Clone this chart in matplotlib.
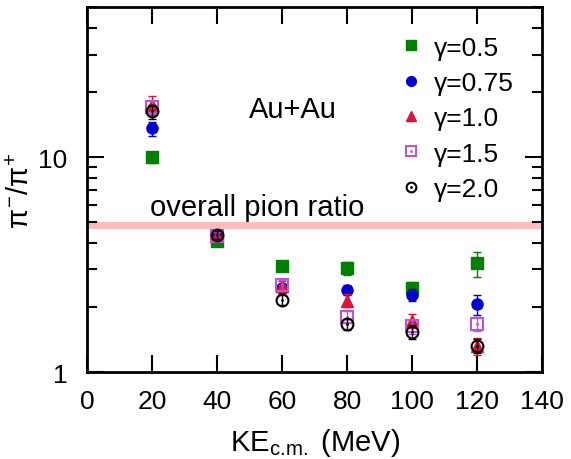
import numpy as np
import matplotlib
matplotlib.use("Agg")
import matplotlib.pyplot as plt
from matplotlib.lines import Line2D
from matplotlib.legend_handler import HandlerTuple

plt.rcParams['font.family'] = ['Liberation Sans', 'DejaVu Sans']
plt.rcParams['mathtext.fontset'] = 'custom'
plt.rcParams['mathtext.rm'] = 'Liberation Sans'
plt.rcParams['mathtext.it'] = 'Liberation Sans'

ke = [20, 40, 60, 80, 100, 120]

ratio_g05 = [10.0, 4.06, 3.12, 3.04, 2.45, 3.20]
err_g05 = [0.6, 0.15, 0.15, 0.2, 0.18, 0.42]
ratio_g075 = [13.6, 4.30, 2.45, 2.41, 2.28, 2.07]
err_g075 = [1.0, 0.2, 0.12, 0.13, 0.15, 0.22]
ratio_g10 = [17.5, 4.30, 2.52, 2.15, 1.73, 1.32]
err_g10 = [1.8, 0.2, 0.14, 0.15, 0.13, 0.12]
ratio_g15 = [17.1, 4.30, 2.55, 1.81, 1.63, 1.68]
err_g15 = [1.2, 0.2, 0.14, 0.12, 0.12, 0.12]
ratio_g20 = [16.3, 4.35, 2.16, 1.67, 1.54, 1.32]
err_g20 = [1.2, 0.2, 0.12, 0.1, 0.12, 0.1]

overall_ratio = 4.85

fig = plt.figure(figsize=(5.71, 4.6), dpi=100)
ax = fig.add_axes([0.1524, 0.189, 0.797, 0.794])

ax.axhline(overall_ratio, color='#ffbcbc', lw=5, zorder=1)

handles = []
# (values, errors, colour, marker, filled, label)
series = [
    (ratio_g05, err_g05, 'green', 's', True, 'γ=0.5'),
    (ratio_g075, err_g075, '#0000d0', 'o', True, 'γ=0.75'),
    (ratio_g10, err_g10, 'crimson', '^', True, 'γ=1.0'),
    (ratio_g15, err_g15, 'mediumorchid', 's', False, 'γ=1.5'),
    (ratio_g20, err_g20, 'black', 'o', False, 'γ=2.0'),
]
for i, (vals, errs, col, mk, filled, lab) in enumerate(series):
    z = 3 + i
    ms = 8 if filled else 8.5
    ax.errorbar(ke, vals, yerr=errs, fmt='none', ecolor=col, elinewidth=1,
                capsize=3, capthick=1, zorder=z)
    if filled:
        ax.plot(ke, vals, ls='none', marker=mk, ms=ms, color=col, zorder=z)
        handles.append(Line2D([], [], ls='none', marker=mk, ms=7, color=col))
    else:
        ax.plot(ke, vals, ls='none', marker=mk, ms=ms, mfc='none', mec=col,
                mew=1.5, zorder=z)
        ax.plot(ke, vals, ls='none', marker='.', ms=2, color=col, zorder=z)
        h1 = Line2D([], [], ls='none', marker=mk, ms=7, mfc='none', mec=col, mew=1.5)
        h2 = Line2D([], [], ls='none', marker='.', ms=2, color=col)
        handles.append((h1, h2))

ax.legend(handles, [s[5] for s in series], loc='upper left',
          bbox_to_anchor=(0.684, 0.921), frameon=False, fontsize=19,
          handler_map={tuple: HandlerTuple(ndivide=1)},
          handlelength=1.0, handletextpad=0.35, labelspacing=0.43,
          borderaxespad=0, borderpad=0)

ax.text(63.4, 16.7, 'Au+Au', fontsize=21, ha='center', va='center')
ax.text(52.3, 5.85, 'overall pion ratio', fontsize=21, ha='center', va='center')

ax.set_yscale('log')
ax.set_xlim(0, 140)
ax.set_ylim(1, 50)
ax.set_xticks(np.arange(0, 141, 20))
ax.set_yticks([1, 10])
ax.set_yticklabels(['1', '10'])
ax.yaxis.set_minor_formatter(matplotlib.ticker.NullFormatter())

ax.tick_params(which='both', direction='in', top=True, right=True,
               labelsize=19, width=1.5)
ax.tick_params(which='major', length=12, pad=12)
ax.tick_params(axis='y', which='major', pad=14)
ax.tick_params(which='minor', length=7)
for sp in ax.spines.values():
    sp.set_linewidth(2)

ax.set_xlabel(r'KE$_{\rm c.\!m.}$ (MeV)', fontsize=21)
ax.set_ylabel(r'$\pi^{-}/\pi^{+}$', fontsize=21)
ax.xaxis.set_label_coords(0.5, -0.148)
ax.yaxis.set_label_coords(-0.114, 0.5)

fig.savefig('out.png', dpi=100)
